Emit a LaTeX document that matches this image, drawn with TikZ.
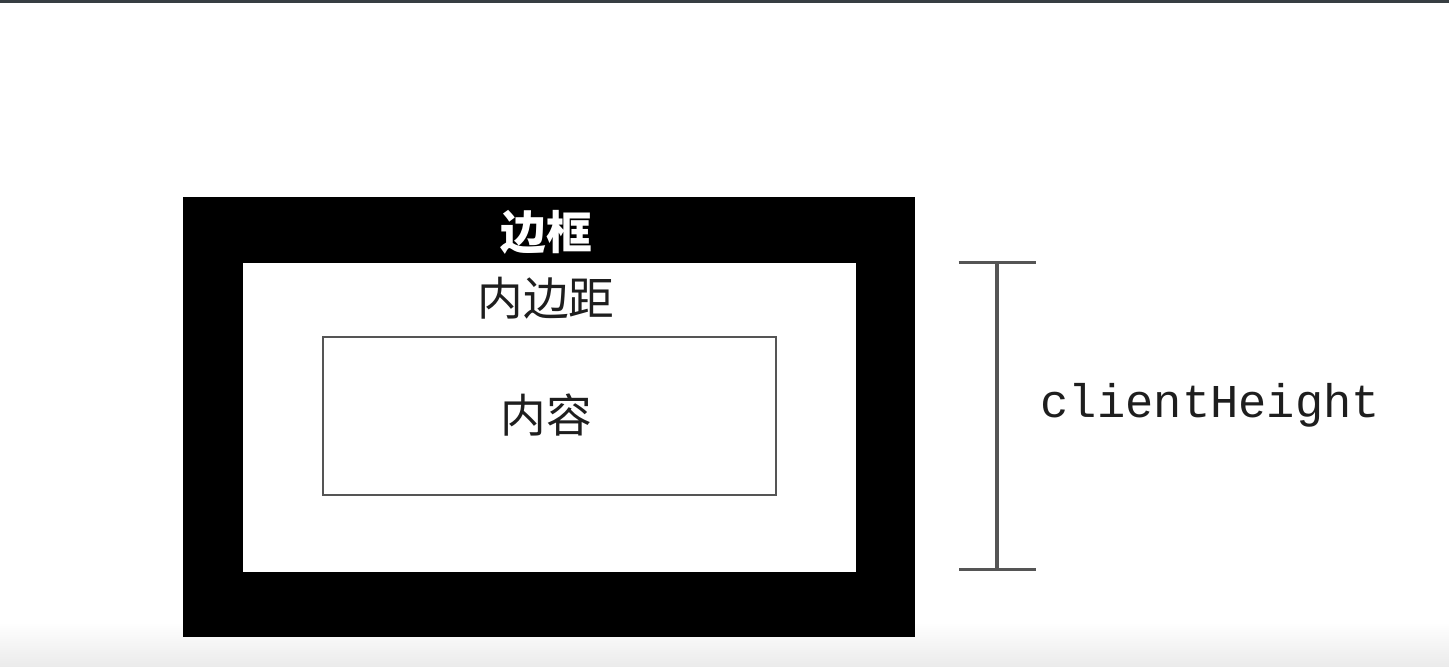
\documentclass[tikz,border=0pt]{standalone}
\usepackage{fontspec}
\setmonofont{Liberation Mono}
\newfontfamily\cjk{Noto Sans CJK SC}
\usetikzlibrary{positioning,arrows.meta}
\definecolor{topbar}{RGB}{55,62,66}
\definecolor{linegray}{RGB}{85,85,85}
\definecolor{textdark}{RGB}{30,30,30}

\begin{document}
\begin{tikzpicture}[
  box/.style={draw=none,inner sep=0pt,outer sep=0pt},
  label/.style={font=\cjk\fontsize{13}{15}\selectfont,text=textdark,inner sep=0pt}]
\useasboundingbox (0,0) rectangle (14.49,6.67);
% Frame
\fill[topbar] (0,6.64) rectangle (14.49,6.67); % top strip
\shade[top color=white,bottom color=black!8] (0,0.45) rectangle (14.49,0); % bottom band
% Boxes
\node[box,fill=black,minimum width=7.32cm,minimum height=4.40cm] (border) at (5.49,2.50) {}; % border
\node[box,fill=white,minimum width=6.13cm,minimum height=3.09cm] (padding) at (5.495,2.495) {}; % padding
\node[box,draw=linegray,line width=0.8pt,minimum width=4.53cm,minimum height=1.58cm] (content) at (5.495,2.51) {}; % content
% Labels
\node[label,text=white,font=\cjk\bfseries\fontsize{13}{15}\selectfont] (borderlbl) at (5.46,4.35) {边框};
\node[label] (paddinglbl) at (5.46,3.69) {内边距};
\node[label] (contentlbl) at (5.46,2.52) {内容};
% Height
\coordinate (htop) at (9.97,4.06);
\coordinate (hbot) at (9.97,0.96);
\draw[linegray,line width=0.9pt,{Bar[width=7.7mm]}-{Bar[width=7.7mm]}] (htop) -- (hbot);
\node[right = 4.3mm of {(9.97,2.62)},inner sep=0pt,font=\ttfamily\fontsize{13.4}{15}\selectfont,text=textdark] (heightlbl) {clientHeight};
\end{tikzpicture}
\end{document}
